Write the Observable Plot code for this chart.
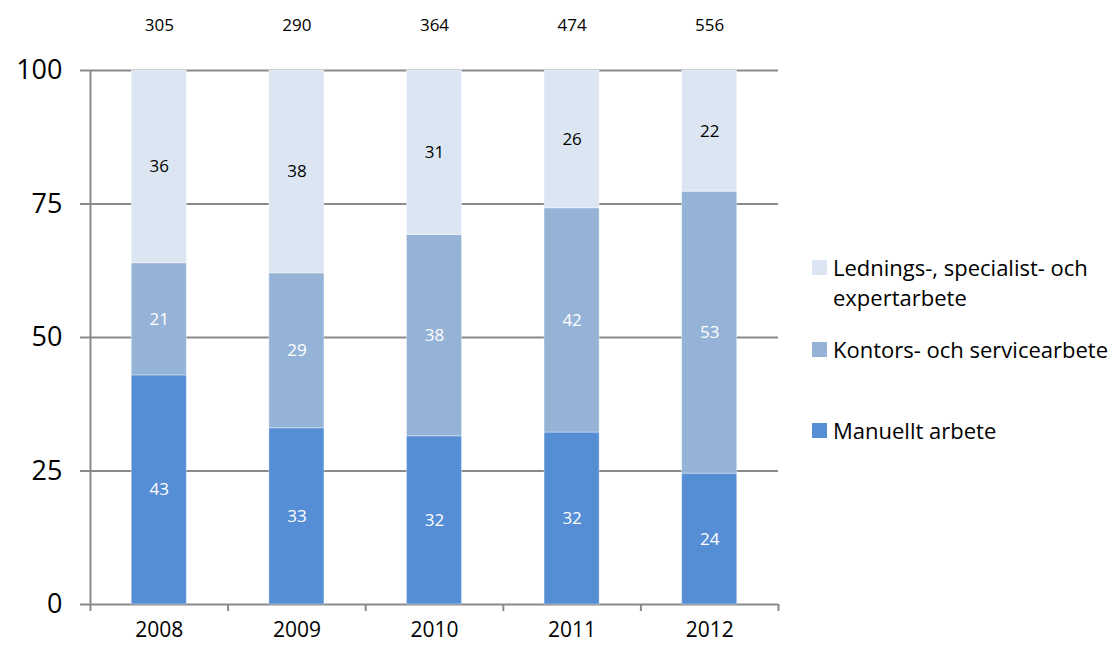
<!DOCTYPE html>
<html>
<head>
<meta charset="utf-8">
<script src="https://cdn.jsdelivr.net/npm/d3@7"></script>
<script src="https://cdn.jsdelivr.net/npm/@observablehq/plot@0.6"></script>
<style>
  html, body { margin: 0; padding: 0; background: #fff; }
  #wrap { position: relative; width: 1115px; height: 645px; font-family: "Open Sans", sans-serif; }
  #legend { position: absolute; left: 812px; top: 252px; font-size: 22px; color: #000; line-height: 30px; }
  .item { position: relative; padding-left: 21px; white-space: nowrap; }
  .sw { position: absolute; left: 0; top: 8px; width: 15px; height: 15px; }
</style>
</head>
<body>
<div id="wrap"><div id="chart"></div><div id="legend"></div></div>
<script>
const years = ["2008", "2009", "2010", "2011", "2012"];
const totals = [305, 290, 364, 474, 556];
const series = ["Manuellt arbete", "Kontors- och servicearbete", "Lednings-, specialist- och expertarbete"];
const manuellt = [42.9, 33.0, 31.5, 32.2, 24.5];
const kontors = [21.0, 29.0, 37.7, 42.0, 52.8];
const ledning = [36.1, 38.0, 30.8, 25.8, 22.7];
const labelsManuellt = [43, 33, 32, 32, 24];
const labelsKontors = [21, 29, 38, 42, 53];
const labelsLedning = [36, 38, 31, 26, 22];
const colors = ["#558ED5", "#95B3D7", "#DCE6F2"];
const textColors = ["#ffffff", "#ffffff", "#000000"];
const yTicks = [0, 25, 50, 75, 100];

const values = [manuellt, kontors, ledning];
const labels = [labelsManuellt, labelsKontors, labelsLedning];
const rows = [];
years.forEach((yr, i) => {
  let acc = 0;
  values.forEach((vals, s) => {
    const v = vals[i];
    rows.push({year: yr, idx: i, series: series[s], s, y1: acc, y2: acc + v, label: labels[s][i]});
    acc += v;
  });
});
const boundaries = d3.range(years.length + 1);
const gray = "#8a8a8a";

const chart = Plot.plot({
  width: 1115,
  height: 645,
  marginLeft: 90,
  marginRight: 337,
  marginTop: 70,
  marginBottom: 41,
  style: {fontFamily: "'Open Sans', sans-serif", background: "transparent"},
  x: {type: "linear", domain: [0, years.length], axis: null},
  y: {domain: [0, 100], axis: null},
  marks: [
    Plot.ruleY(yTicks, {stroke: gray, strokeWidth: 2}),
    Plot.axisY({ticks: yTicks, tickSize: 10, tickPadding: 18, stroke: gray, strokeWidth: 2, fill: "#000", fontSize: 27, tickFormat: d => d}),
    Plot.ruleX([0], {stroke: gray, strokeWidth: 2}),
    Plot.axisX({ticks: boundaries, tickSize: 7, stroke: gray, strokeWidth: 2, tickFormat: () => ""}),
    Plot.rect(rows, {
      x1: d => d.idx + 0.3, x2: d => d.idx + 0.7,
      y1: "y1", y2: "y2",
      fill: d => colors[d.s],
      stroke: "#ffffff", strokeOpacity: 0.35, strokeWidth: 1
    }),
    Plot.text(rows, {
      x: d => d.idx + 0.5, y: d => (d.y1 + d.y2) / 2,
      text: d => String(d.label),
      fill: d => textColors[d.s], fontSize: 17
    }),
    Plot.text(years, {x: (d, i) => i + 0.5, y: () => 100, text: (d, i) => String(totals[i]), dy: -45, fontSize: 17, fill: "#000"}),
    Plot.text(years, {x: (d, i) => i + 0.5, y: () => 0, text: d => d, dy: 26, fontSize: 21, fill: "#000"})
  ]
});
document.getElementById("chart").appendChild(chart);

const legendOrder = [2, 1, 0];
const legendTexts = ["Lednings-, specialist- och<br>expertarbete", "Kontors- och servicearbete", "Manuellt arbete"];
const legendTops = [0, 82, 163];
const legend = document.getElementById("legend");
legendOrder.forEach((s, k) => {
  const div = document.createElement("div");
  div.className = "item";
  div.style.position = "absolute";
  div.style.top = legendTops[k] + "px";
  div.innerHTML = `<span class="sw" style="background:${colors[s]}"></span>${legendTexts[k]}`;
  legend.appendChild(div);
});
</script>
</body>
</html>
